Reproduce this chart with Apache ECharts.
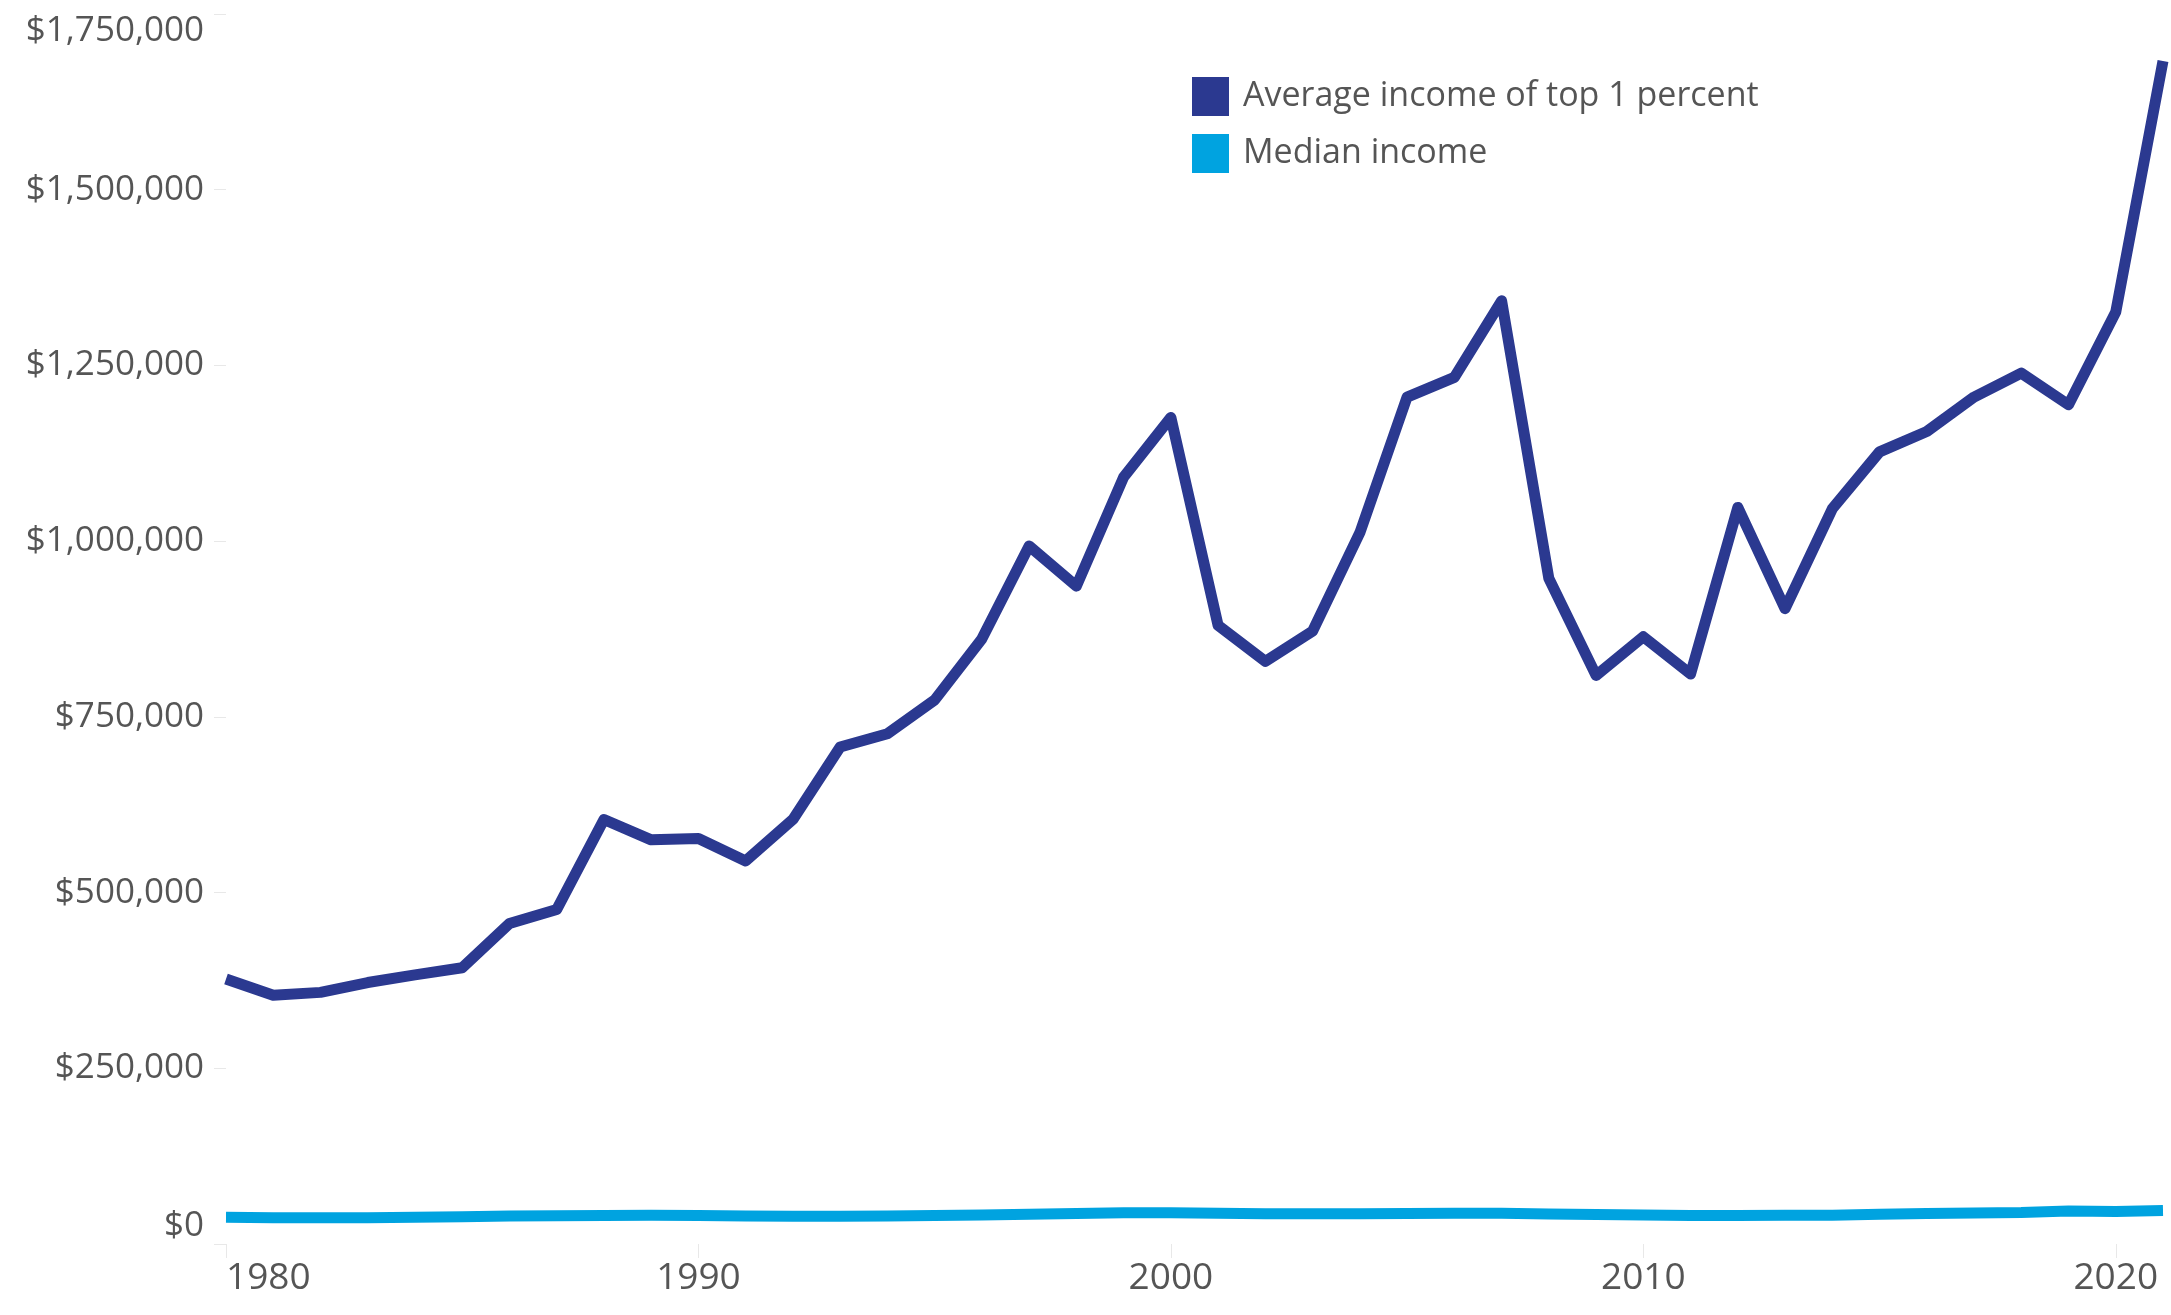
<!DOCTYPE html>
<html>
<head>
<meta charset="utf-8">
<script src="https://cdn.jsdelivr.net/npm/echarts@6/dist/echarts.min.js"></script>
<style>
html,body{margin:0;padding:0;background:#fff;}
#chart{width:2171px;height:1315px;}
</style>
</head>
<body>
<div id="chart"></div>
<script>
const years = [1980,1981,1982,1983,1984,1985,1986,1987,1988,1989,1990,1991,1992,1993,1994,1995,1996,1997,1998,1999,2000,2001,2002,2003,2004,2005,2006,2007,2008,2009,2010,2011,2012,2013,2014,2015,2016,2017,2018,2019,2020,2021];
const top1Income = [377000,354000,358000,372000,383000,393000,456000,476000,604000,575000,577000,545000,604000,707000,726000,774000,861000,993000,936000,1091000,1176000,880000,829000,872000,1012000,1205000,1233000,1342000,947000,809000,864000,811000,1048000,904000,1046000,1127000,1156000,1205000,1239000,1194000,1326000,1683000];
const medianIncome = [38000,37500,37200,37500,38200,38800,39800,40200,40600,41000,40600,39700,39500,39400,39800,40700,41400,42300,43500,44300,44500,43800,43200,43000,43000,43300,43600,43800,42600,42000,41200,40600,40500,40900,41000,42500,43500,44200,44800,47000,46200,47500];
const seriesNames = ['Average income of top 1 percent','Median income'];
const yTicks = [0,250000,500000,750000,1000000,1250000,1500000,1750000];
const xTicks = [1980,1990,2000,2010,2020];

const fmt = v => '$' + v.toLocaleString('en-US');
const font = '"Open Sans", "Noto Sans", sans-serif';

const chart = echarts.init(document.getElementById('chart'), null, {renderer:'canvas'});
chart.setOption({
  animation:false,
  backgroundColor:'#ffffff',
  color:['#2b3990','#00a3e0'],
  grid:{left:226,right:8,top:14,bottom:71,containLabel:false},
  legend:{
    orient:'vertical',left:1187,top:72,
    icon:'rect',itemWidth:37,itemHeight:39,itemGap:18,
    textStyle:{fontFamily:font,fontSize:34,color:'#555',padding:[0,0,0,9]},
    data:seriesNames
  },
  xAxis:{
    type:'value',min:1980,max:2021,interval:10,
    axisLine:{show:false},
    axisTick:{show:true,length:14,lineStyle:{color:'#e8e8e8',width:1}},
    splitLine:{show:false},
    axisLabel:{
      fontFamily:font,fontSize:37,color:'#555',margin:16,
      alignMinLabel:'left',showMaxLabel:false,
      formatter:v => xTicks.includes(v) ? String(v) : ''
    }
  },
  yAxis:{
    type:'value',min:0,max:1750000,interval:250000,
    axisLine:{show:false},
    axisTick:{show:true,length:12,lineStyle:{color:'#e8e8e8',width:1}},
    splitLine:{show:false},
    axisLabel:{
      fontFamily:font,fontSize:35,color:'#555',margin:22,
      verticalAlignMinLabel:'bottom',verticalAlignMaxLabel:'top',
      formatter:v => yTicks.includes(v) ? fmt(v) : ''
    }
  },
  series:[
    {name:seriesNames[0],type:'line',showSymbol:false,symbol:'none',
     lineStyle:{width:11,join:'round'},
     data:years.map((y,i)=>[y,top1Income[i]])},
    {name:seriesNames[1],type:'line',showSymbol:false,symbol:'none',
     lineStyle:{width:11,join:'round'},
     data:years.map((y,i)=>[y,medianIncome[i]])}
  ]
});
</script>
</body>
</html>
